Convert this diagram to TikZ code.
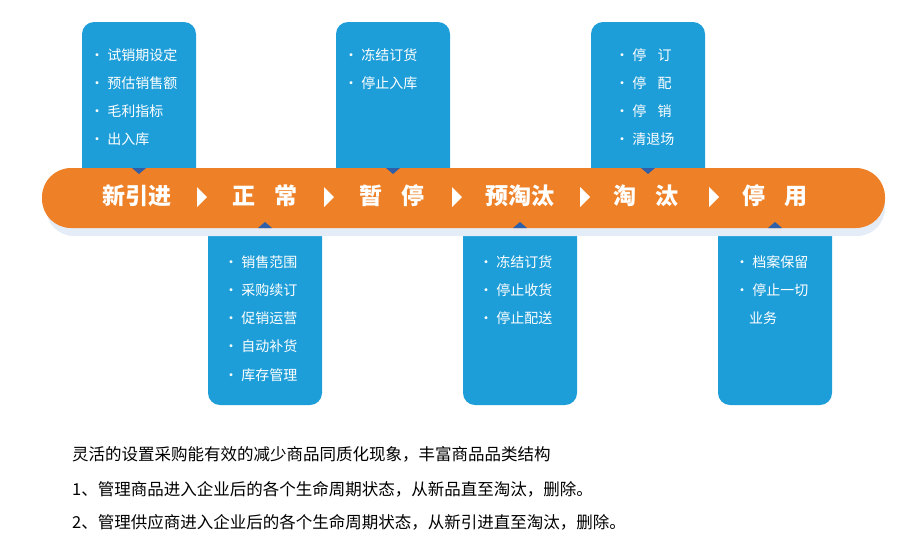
\documentclass[tikz,border=0pt]{standalone}
\usepackage{fontspec}
\setmainfont{Noto Sans CJK SC}
\usetikzlibrary{positioning}
\definecolor{barorange}{HTML}{EE8127}
\definecolor{boxblue}{HTML}{1E9ED9}
\definecolor{darkblue}{HTML}{2E5FA8}
\definecolor{shadowblue}{HTML}{E3ECF7}
\begin{document}
\begin{tikzpicture}[x=1pt,y=-1pt,
    stagebox/.style = {fill=boxblue,rounded corners=12pt},
    item/.style = {text=white,font=\fontsize{14}{15}\selectfont,anchor=west,inner sep=0pt},
    stage/.style = {text=white,font=\bfseries\fontsize{23}{25}\selectfont,inner sep=0pt},
    note/.style = {font=\fontsize{16.5}{18}\selectfont,anchor=west,inner sep=0pt}]
    \useasboundingbox (0,0) rectangle (918,550);

    % boxes above the bar
    \foreach \x in {82,336,591}
        \fill[stagebox] (\x,22) rectangle (\x+114,190);
    % boxes below the bar
    \foreach \x in {208,463,718}
        \fill[stagebox] (\x,205) rectangle (\x+114,405);

    % bar with shadow
    \fill[shadowblue,rounded corners=28pt] (46,176) rectangle (885,236);
    \fill[barorange,rounded corners=29pt] (42,168) rectangle (885,228);

    % small joints
    \foreach \x in {139,393,648}
        \fill[darkblue] (\x-7,168) -- (\x+7,168) -- (\x,174) -- cycle;
    \foreach \x in {265,520,775}
        \fill[darkblue] (\x-7,228) -- (\x+7,228) -- (\x,222) -- cycle;

    % stages
    \node[stage] (xyj) at (137,196) {新引进};
    \node[stage] (zc) at (265,196) {正\hspace{0.8em}常};
    \node[stage] (zt) at (392,196) {暂\hspace{0.8em}停};
    \node[stage] (ytt) at (520,196) {预淘汰};
    \node[stage] (tt) at (646,196) {淘\hspace{0.8em}汰};
    \node[stage] (ty) at (775,196) {停\hspace{0.8em}用};
    \foreach \x in {197,324,452,580,709}
        \fill[white] (\x,187) -- (\x+10,197) -- (\x,207) -- cycle;

    % items
    \node[item] (a1) at (90,55) {·\ 试销期设定};
    \node[item] (a2) at (90,83) {·\ 预估销售额};
    \node[item] (a3) at (90,111) {·\ 毛利指标};
    \node[item] (a4) at (90,139) {·\ 出入库};
    \node[item] (b1) at (344,55) {·\ 冻结订货};
    \node[item] (b2) at (344,83) {·\ 停止入库};
    \node[item] (c1) at (615,55) {·\ 停\hspace{0.8em}订};
    \node[item] (c2) at (615,83) {·\ 停\hspace{0.8em}配};
    \node[item] (c3) at (615,111) {·\ 停\hspace{0.8em}销};
    \node[item] (c4) at (615,139) {·\ 清退场};
    \node[item] (d1) at (224,262) {·\ 销售范围};
    \node[item] (d2) at (224,290) {·\ 采购续订};
    \node[item] (d3) at (224,318) {·\ 促销运营};
    \node[item] (d4) at (224,346) {·\ 自动补货};
    \node[item] (d5) at (224,375) {·\ 库存管理};
    \node[item] (e1) at (479,262) {·\ 冻结订货};
    \node[item] (e2) at (479,290) {·\ 停止收货};
    \node[item] (e3) at (479,318) {·\ 停止配送};
    \node[item] (f1) at (735,262) {·\ 档案保留};
    \node[item] (f2) at (735,290) {·\ 停止一切};
    \node[item] (f3) at (749,318) {业务};

    % notes
    \node[note] (n1) at (72,454) {灵活的设置采购能有效的减少商品同质化现象，丰富商品品类结构};
    \node[note] (n2) at (72,489) {1、管理商品进入企业后的各个生命周期状态，从新品直至淘汰，删除。};
    \node[note] (n3) at (72,522) {2、管理供应商进入企业后的各个生命周期状态，从新引进直至淘汰，删除。};
\end{tikzpicture}
\end{document}
